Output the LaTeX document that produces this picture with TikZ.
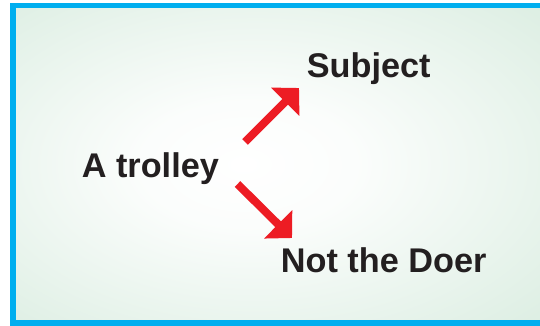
\documentclass[tikz,border=0pt]{standalone}
\usepackage{fontspec}
\setmainfont{Liberation Sans}
\usetikzlibrary{positioning,arrows.meta}
\definecolor{FrameBlue}{HTML}{00AEEF}
\definecolor{BgGreen}{HTML}{CCE6D5}
\definecolor{ArrowRed}{HTML}{ED1C24}
\definecolor{TextDark}{HTML}{231F20}
\colorlet{BgPale}{white!92!BgGreen}
\pgfdeclareradialshading{bgglow}{\pgfpoint{-4bp}{0bp}}{color(0bp)=(white); color(10bp)=(BgPale); color(50bp)=(BgGreen); color(80bp)=(BgGreen)}

\begin{document}
\begin{tikzpicture}[
  x=0.02cm, y=-0.02cm,
  word/.style={font=\fontsize{19.5}{23}\selectfont\bfseries, text=TextDark, inner sep=0pt, anchor=base west},
  arrow/.style={-{Triangle[length=0.39cm, width=0.78cm]}, line width=0.16cm, draw=ArrowRed}
]
\useasboundingbox (0,0) rectangle (540,325);
\clip (0,0) rectangle (540,325);
% panel
\shade[shading=bgglow] (13,5.5) rectangle (560,323);
\draw[FrameBlue, line width=0.11cm] (13,5.5) rectangle (560,323);
% words
\node[word] (trolley) at (81.5,177) {A trolley};
\node[word] (subject) at (306.5,77) {Subject};
\node[word] (doer) at (280.5,272) {Not the Doer};
% arrows
\coordinate (upfrom) at (245,142);
\coordinate (upto) at (299,88);
\coordinate (downfrom) at (237.5,184);
\coordinate (downto) at (292,238);
\draw[arrow] (upfrom) -- (upto);
\draw[arrow] (downfrom) -- (downto);
\end{tikzpicture}
\end{document}
